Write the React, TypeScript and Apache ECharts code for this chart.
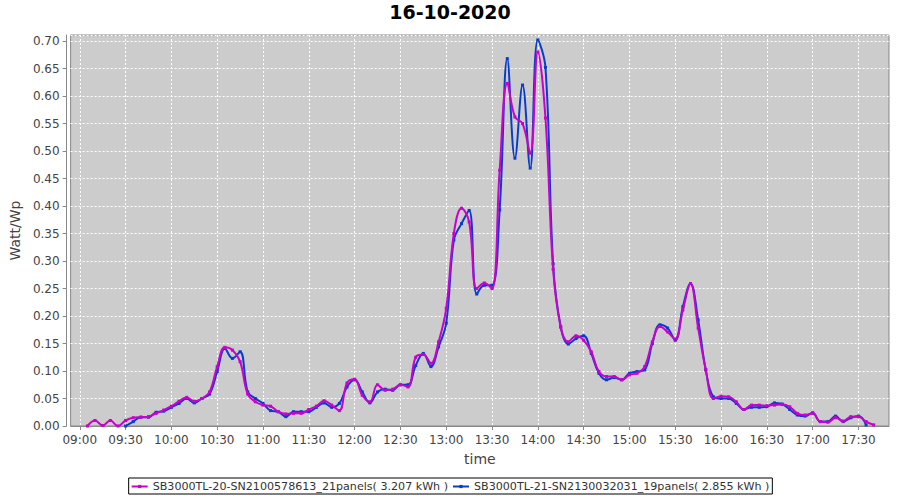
import React, { useEffect, useRef } from "react";
import * as echarts from "echarts";

const chartTitle = "16-10-2020";
const xAxisName = "time";
const yAxisName = "Watt/Wp";
const magentaName = "SB3000TL-20-SN2100578613_21panels( 3.207 kWh )";
const blueName = "SB3000TL-21-SN2130032031_19panels( 2.855 kWh )";

const xRangeStart = "08:54";
const xRangeEnd = "17:50";
const xTickLabels = [
  "09:00", "09:30", "10:00", "10:30", "11:00", "11:30", "12:00", "12:30", "13:00",
  "13:30", "14:00", "14:30", "15:00", "15:30", "16:00", "16:30", "17:00", "17:30",
];
const yMax = 0.711;
const yStep = 0.05;

const times = [
  "09:05", "09:10", "09:15", "09:20", "09:25", "09:30", "09:35", "09:40", "09:45", "09:50", "09:55",
  "10:00", "10:05", "10:10", "10:15", "10:20", "10:25", "10:30", "10:35", "10:40", "10:45", "10:50", "10:55",
  "11:00", "11:05", "11:10", "11:15", "11:20", "11:25", "11:30", "11:35", "11:40", "11:45", "11:50", "11:55",
  "12:00", "12:05", "12:10", "12:15", "12:20", "12:25", "12:30", "12:35", "12:40", "12:45", "12:50", "12:55",
  "13:00", "13:05", "13:10", "13:15", "13:20", "13:25", "13:30", "13:35", "13:40", "13:45", "13:50", "13:55",
  "14:00", "14:05", "14:10", "14:15", "14:20", "14:25", "14:30", "14:35", "14:40", "14:45", "14:50", "14:55",
  "15:00", "15:05", "15:10", "15:15", "15:20", "15:25", "15:30", "15:35", "15:40", "15:45", "15:50", "15:55",
  "16:00", "16:05", "16:10", "16:15", "16:20", "16:25", "16:30", "16:35", "16:40", "16:45", "16:50", "16:55",
  "17:00", "17:05", "17:10", "17:15", "17:20", "17:25", "17:30", "17:35", "17:40",
];

const magentaValues = [
  0.000, 0.010, 0.001, 0.010, 0.000, 0.010, 0.015, 0.016, 0.017, 0.023, 0.029,
  0.036, 0.045, 0.052, 0.045, 0.050, 0.062, 0.108, 0.143, 0.138, 0.117, 0.058, 0.044,
  0.038, 0.036, 0.026, 0.022, 0.023, 0.023, 0.030, 0.036, 0.046, 0.038, 0.028, 0.078,
  0.085, 0.056, 0.044, 0.075, 0.065, 0.067, 0.075, 0.071, 0.125, 0.130, 0.114, 0.153,
  0.214, 0.350, 0.396, 0.371, 0.250, 0.260, 0.250, 0.465, 0.623, 0.562, 0.550, 0.496,
  0.680, 0.560, 0.285, 0.180, 0.153, 0.164, 0.156, 0.135, 0.099, 0.090, 0.090, 0.084,
  0.093, 0.096, 0.108, 0.153, 0.181, 0.171, 0.158, 0.211, 0.259, 0.178, 0.102, 0.050,
  0.054, 0.053, 0.044, 0.030, 0.038, 0.038, 0.037, 0.038, 0.039, 0.035, 0.023, 0.020,
  0.023, 0.008, 0.007, 0.015, 0.009, 0.017, 0.017, 0.008, 0.002,
];

const blueValues = [
  null, null, null, null, null, 0.000, 0.008, 0.016, 0.016, 0.025, 0.027,
  0.034, 0.041, 0.050, 0.042, 0.050, 0.058, 0.099, 0.141, 0.123, 0.135, 0.062, 0.050,
  0.041, 0.028, 0.026, 0.017, 0.026, 0.026, 0.026, 0.034, 0.042, 0.034, 0.041, 0.071,
  0.084, 0.062, 0.042, 0.062, 0.067, 0.065, 0.075, 0.075, 0.110, 0.132, 0.108, 0.144,
  0.187, 0.338, 0.368, 0.392, 0.240, 0.256, 0.256, 0.393, 0.668, 0.487, 0.620, 0.469,
  0.702, 0.652, 0.295, 0.180, 0.149, 0.159, 0.164, 0.132, 0.096, 0.084, 0.088, 0.084,
  0.096, 0.099, 0.102, 0.150, 0.184, 0.178, 0.156, 0.217, 0.259, 0.193, 0.102, 0.053,
  0.050, 0.050, 0.041, 0.030, 0.034, 0.034, 0.035, 0.042, 0.040, 0.030, 0.020, 0.018,
  0.024, 0.008, 0.008, 0.018, 0.008, 0.015, 0.018, 0.002, null,
];

const magentaColor = "#cc00cc";
const blueColor = "#0a3ccc";

function toMin(t: string): number {
  const [h, m] = t.split(":").map(Number);
  return h * 60 + m;
}
function fmtMin(v: number): string {
  const h = Math.floor(v / 60);
  const m = Math.round(v - h * 60);
  return String(h).padStart(2, "0") + ":" + String(m).padStart(2, "0");
}

const FONT = "DejaVu Sans";

export default function App() {
  const ref = useRef<HTMLDivElement>(null);
  useEffect(() => {
    if (!ref.current) return;
    const chart = echarts.init(ref.current, undefined, { renderer: "svg" });
    const tickMins = xTickLabels.map(toMin);
    const mData = times.map((t, i) => [toMin(t), magentaValues[i]]);
    const bData = times
      .map((t, i) => [toMin(t), blueValues[i]])
      .filter((d) => d[1] !== null);
    const option: any = {
      animation: false,
      backgroundColor: "#ffffff",
      title: {
        text: chartTitle,
        left: "center",
        top: 0,
        padding: [2, 5, 5, 5],
        textStyle: { fontFamily: FONT, fontSize: 19, fontWeight: "bold", color: "#000" },
      },
      legend: {
        data: [magentaName, blueName],
        left: "center",
        top: 478,
        orient: "horizontal",
        borderColor: "#000",
        borderWidth: 1,
        backgroundColor: "#fff",
        padding: [3, 3, 2, 2],
        itemGap: 4,
        itemWidth: 16,
        itemHeight: 4,
        textStyle: { fontFamily: FONT, fontSize: 11.1, color: "#333" },
      },
      grid: {
        left: 67,
        right: 11,
        top: 35,
        bottom: 74,
        containLabel: false,
        show: true,
        backgroundColor: "#cccccc",
        borderColor: "#888888",
        borderWidth: 1,
      },
      xAxis: {
        type: "value",
        min: toMin(xRangeStart),
        max: toMin(xRangeEnd),
        offset: 4,
        name: xAxisName,
        nameLocation: "middle",
        nameGap: 22,
        nameTextStyle: { fontFamily: FONT, fontSize: 14, color: "#444" },
        axisLine: { show: true, lineStyle: { color: "#888888", width: 1 } },
        axisTick: { show: true, length: 4, customValues: tickMins, lineStyle: { color: "#888888" } },
        axisLabel: {
          customValues: tickMins,
          margin: 4,
          fontFamily: FONT,
          fontSize: 12,
          color: "#444",
          formatter: (v: number) => fmtMin(v),
        },
        splitLine: { show: true, lineStyle: { color: "#ffffff", type: [2, 2], width: 1 } },
      },
      yAxis: {
        type: "value",
        min: 0,
        max: yMax,
        interval: yStep,
        offset: 4,
        name: yAxisName,
        nameLocation: "middle",
        nameGap: 28,
        nameTextStyle: { fontFamily: FONT, fontSize: 14, color: "#444" },
        axisLine: { show: true, lineStyle: { color: "#888888", width: 1 } },
        axisTick: { show: true, length: 4, lineStyle: { color: "#888888" } },
        axisLabel: {
          margin: 7,
          fontFamily: FONT,
          fontSize: 12,
          color: "#444",
          showMaxLabel: false,
          formatter: (v: number) => (Math.abs(v / yStep - Math.round(v / yStep)) < 1e-6 ? v.toFixed(2) : ""),
        },
        splitLine: { show: true, lineStyle: { color: "#ffffff", type: [2, 2], width: 1 } },
      },
      series: [
        {
          name: blueName,
          type: "line",
          data: bData,
          smooth: 0.4,
          showSymbol: true,
          symbol: "rect",
          symbolSize: 3,
          lineStyle: { color: blueColor, width: 2 },
          itemStyle: { color: blueColor },
          z: 2,
        },
        {
          name: magentaName,
          type: "line",
          data: mData,
          smooth: 0.4,
          showSymbol: true,
          symbol: "rect",
          symbolSize: 3,
          lineStyle: { color: magentaColor, width: 2 },
          itemStyle: { color: magentaColor },
          z: 3,
        },
      ],
    };
    chart.setOption(option);
    return () => chart.dispose();
  }, []);
  return (
    <div
      ref={ref}
      style={{ position: "fixed", left: 0, top: 0, width: 900, height: 500 }}
    />
  );
}
